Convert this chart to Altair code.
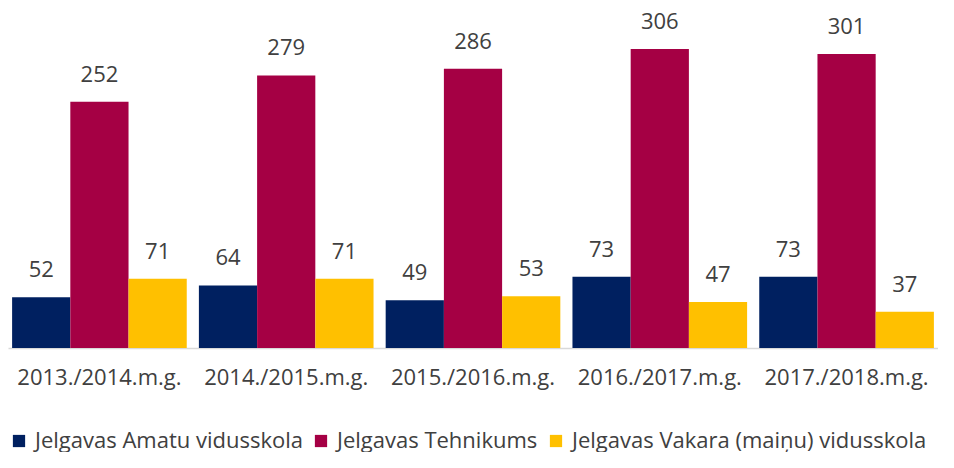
import altair as alt
import pandas as pd

years = ["2013./2014.m.g.", "2014./2015.m.g.", "2015./2016.m.g.", "2016./2017.m.g.", "2017./2018.m.g."]
schools = ["Jelgavas Amatu vidusskola", "Jelgavas Tehnikums", "Jelgavas Vakara (maiņu) vidusskola"]
amatu = [52, 64, 49, 73, 73]
tehnikums = [252, 279, 286, 306, 301]
vakara = [71, 71, 53, 47, 37]
colors = ["#002060", "#A50044", "#FFC000"]

rows = []
for i, y in enumerate(years):
    for s, vals in zip(schools, [amatu, tehnikums, vakara]):
        rows.append({"year": y, "school": s, "value": vals[i]})
df = pd.DataFrame(rows)

FONT = "Open Sans"

x = alt.X("year:N", sort=years, title=None,
          scale=alt.Scale(paddingInner=0.065, paddingOuter=0.022),
          axis=alt.Axis(labelAngle=0, labelFontSize=22, labelColor="#404040", labelFont=FONT,
                        ticks=False, domainColor="#d9d9d9", domainWidth=1.5, labelPadding=19))
xo = alt.XOffset("school:N", sort=schools, scale=alt.Scale(paddingInner=0, paddingOuter=0))
y = alt.Y("value:Q", scale=alt.Scale(domain=[0, 344], nice=False), axis=None)

base = alt.Chart(df).encode(x=x, xOffset=xo, y=y)

bars = base.mark_bar().encode(
    color=alt.Color("school:N", sort=schools, scale=alt.Scale(domain=schools, range=colors),
                    legend=alt.Legend(title=None, orient="bottom", offset=42,
                                      direction="horizontal", symbolType="square", symbolSize=150,
                                      symbolStrokeWidth=0, labelFontSize=22, labelFont=FONT,
                                      labelColor="#404040", columnPadding=7, labelOffset=5,
                                      labelLimit=600))
)
labels = base.mark_text(dy=-27, fontSize=22, font=FONT, color="#404040").encode(text="value:Q")

chart = (bars + labels).properties(
    width=930, height=336,
    padding={"left": 0, "top": 3, "right": 0, "bottom": 0}
).configure_view(stroke=None)

chart.save("out.html", embed_options={"renderer": "svg", "actions": False})
